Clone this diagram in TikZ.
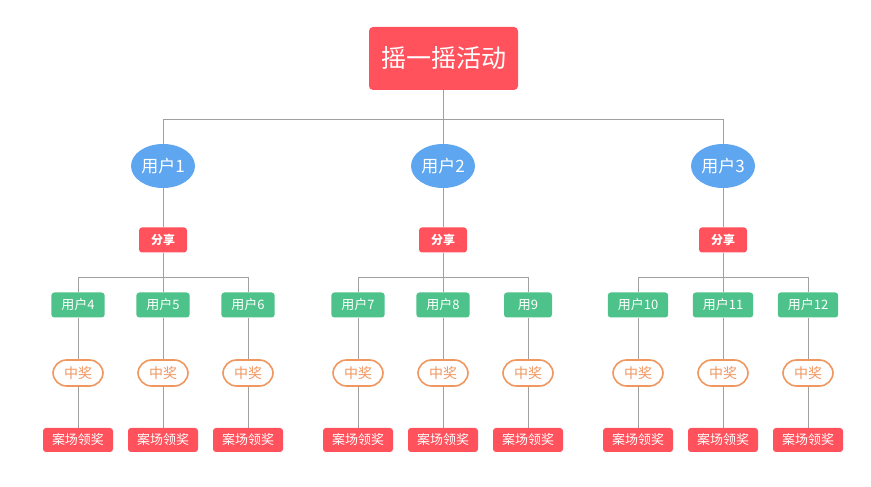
\documentclass[tikz,border=0pt]{standalone}
\usepackage{fontspec}
\setmainfont{Noto Sans CJK SC}
\usetikzlibrary{shapes.geometric}

\definecolor{boxred}{RGB}{255,82,92}
\definecolor{userblue}{RGB}{94,166,240}
\definecolor{leafgreen}{RGB}{77,194,138}
\definecolor{prizeorange}{RGB}{240,150,95}
\definecolor{linegray}{RGB}{160,160,160}

\begin{document}
\begin{tikzpicture}[x=1pt,y=1pt]

		\tikzstyle{event}=[rectangle,rounded corners=4pt,fill=boxred,text=white,
			minimum width=149pt,minimum height=63pt,inner sep=0pt,
			font=\fontsize{25}{29}\selectfont]
		\tikzstyle{user}=[ellipse,fill=userblue,text=white,
			minimum width=64pt,minimum height=44pt,inner sep=0pt,
			font=\fontsize{17}{20}\selectfont]
		\tikzstyle{share}=[rectangle,rounded corners=3pt,fill=boxred,text=white,
			minimum width=48pt,minimum height=25pt,inner sep=0pt,
			font=\fontsize{12}{14}\selectfont\bfseries]
		\tikzstyle{member}=[rectangle,rounded corners=3pt,fill=leafgreen,text=white,
			minimum width=48pt,minimum height=25pt,inner xsep=10pt,inner ysep=0pt,
			font=\fontsize{13}{15}\selectfont]
		\tikzstyle{prize}=[rectangle,rounded corners=13.5pt,draw=prizeorange,line width=1.6pt,
			fill=white,text=prizeorange,minimum width=50pt,minimum height=26pt,inner sep=0pt,
			font=\fontsize{14}{16}\selectfont]
		\tikzstyle{claim}=[rectangle,rounded corners=3pt,fill=boxred,text=white,
			minimum width=70pt,minimum height=24pt,inner sep=0pt,
			font=\fontsize{13}{15}\selectfont]
		\tikzstyle{link}=[draw=linegray,line width=0.9pt]

		\fill[white] (0,0) rectangle (871,487);
		\useasboundingbox (0,0) rectangle (871,487);

		\node[event]	(root)	at (443.5,428.5)	{摇一摇活动};
		\coordinate	(hub)	at (443.5,368);
		\draw[link] (root.south) -- (hub);

		\foreach \s/\cx in {1/163,2/443,3/723}{
			\node[user]	(user\s)	at (\cx,321)	{用户\s};
			\node[share,below of=user\s,node distance=74pt]	(share\s)	{分享};
			\coordinate[below of=share\s,node distance=37pt]	(split\s);
			\draw[link] (hub) -| (user\s.north);
			\draw[link] (user\s.south) -- (share\s.north);
			\draw[link] (share\s.south) -- (split\s);
			\foreach \k/\dx in {1/-85,2/0,3/85}{
				\pgfmathtruncatemacro{\n}{3*\s+\k}
				\node[member]	(member\n)	at (\cx+\dx,182)	{\ifnum\n=9 用9\else 用户\n\fi};
				\node[prize,below of=member\n,node distance=68pt]	(prize\n)	{中奖};
				\node[claim,below of=prize\n,node distance=67pt]	(claim\n)	{案场领奖};
				\draw[link] (split\s) -| (member\n.north);
				\draw[link] (member\n.south) -- (prize\n.north);
				\draw[link] (prize\n.south) -- (claim\n.north);
			}
		}

	\end{tikzpicture}
\end{document}
